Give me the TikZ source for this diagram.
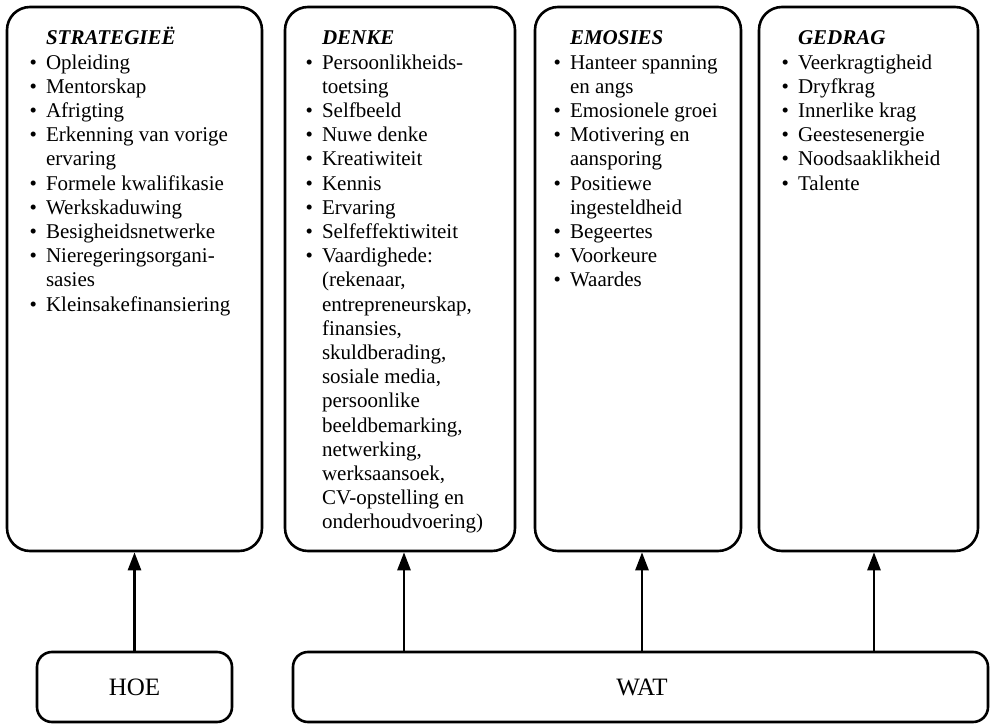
\documentclass[tikz,border=0pt]{standalone}
\usepackage{fontspec}
\setmainfont{Liberation Serif}
\usetikzlibrary{arrows.meta}
\newcommand\blist[1]{\fontsize{21}{24.2}\selectfont\begin{tabular}[t]{@{}l@{\hspace{9pt}}l@{}}#1\end{tabular}}
\newcommand\ttl[1]{& \textbf{\textit{#1}}\\}
\begin{document}
\begin{tikzpicture}[x=1pt,y=-1pt,
  bigbox/.style={draw, line width=2.6pt, rounded corners=23pt, inner sep=0pt},
  smallbox/.style={draw, line width=2.6pt, rounded corners=15pt, inner sep=0pt, font=\fontsize{25}{30}\selectfont},
  listtxt/.style={anchor=base west, inner sep=0pt},
  arr/.style={line width=2.6pt, -{Triangle[width=13pt,length=18pt]}}]
\useasboundingbox (0,0) rectangle (991,725);
% top boxes
\node[bigbox, minimum width=255pt, minimum height=544pt] (strat) at (134.5,279) {};
\node[bigbox, minimum width=230pt, minimum height=544pt] (denke) at (400,279) {};
\node[bigbox, minimum width=206pt, minimum height=544pt] (emo) at (638,279) {};
\node[bigbox, minimum width=219pt, minimum height=544pt] (gedrag) at (868.5,279) {};
% bottom boxes
\node[smallbox, minimum width=195pt, minimum height=70pt] (hoe) at (134.5,687) {HOE};
\node[smallbox, minimum width=695pt, minimum height=70pt] (wat) at (640.5,687) {};
\node[inner sep=0pt, font=\fontsize{25}{30}\selectfont] (wattxt) at (642,687) {WAT};
% lists
\node[listtxt] (stratlist) at (29.5,45) {\blist{%
\ttl{STRATEGIEË}
\textbullet & Opleiding\\
\textbullet & Mentorskap\\
\textbullet & Afrigting\\
\textbullet & Erkenning van vorige\\
 & ervaring\\
\textbullet & Formele kwalifikasie\\
\textbullet & Werkskaduwing\\
\textbullet & Besigheidsnetwerke\\
\textbullet & Nieregeringsorgani-\\
 & sasies\\
\textbullet & Kleinsakefinansiering}};
\node[listtxt] (denkelist) at (305.5,45) {\blist{%
\ttl{DENKE}
\textbullet & Persoonlikheids-\\
 & toetsing\\
\textbullet & Selfbeeld\\
\textbullet & Nuwe denke\\
\textbullet & Kreatiwiteit\\
\textbullet & Kennis\\
\textbullet & Ervaring\\
\textbullet & Selfeffektiwiteit\\
\textbullet & Vaardighede:\\
 & (rekenaar,\\
 & entrepreneurskap,\\
 & finansies,\\
 & skuldberading,\\
 & sosiale media,\\
 & persoonlike\\
 & beeldbemarking,\\
 & netwerking,\\
 & werksaansoek,\\
 & CV-opstelling en\\
 & onderhoudvoering)}};
\node[listtxt] (emolist) at (553.5,45) {\blist{%
\ttl{EMOSIES}
\textbullet & Hanteer spanning\\
 & en angs\\
\textbullet & Emosionele groei\\
\textbullet & Motivering en\\
 & aansporing\\
\textbullet & Positiewe\\
 & ingesteldheid\\
\textbullet & Begeertes\\
\textbullet & Voorkeure\\
\textbullet & Waardes}};
\node[listtxt] (gedraglist) at (781.5,45) {\blist{%
\ttl{GEDRAG}
\textbullet & Veerkragtigheid\\
\textbullet & Dryfkrag\\
\textbullet & Innerlike krag\\
\textbullet & Geestesenergie\\
\textbullet & Noodsaaklikheid\\
\textbullet & Talente}};
% arrows
\draw[arr] (hoe.north) -- (strat.south);
\draw[arr] ([xshift=4pt]wat.north -| denke.south) -- ([xshift=4pt]denke.south);
\draw[arr] ([xshift=4pt]wat.north -| emo.south) -- ([xshift=4pt]emo.south);
\draw[arr] ([xshift=5.5pt]wat.north -| gedrag.south) -- ([xshift=5.5pt]gedrag.south);
\end{tikzpicture}
\end{document}
